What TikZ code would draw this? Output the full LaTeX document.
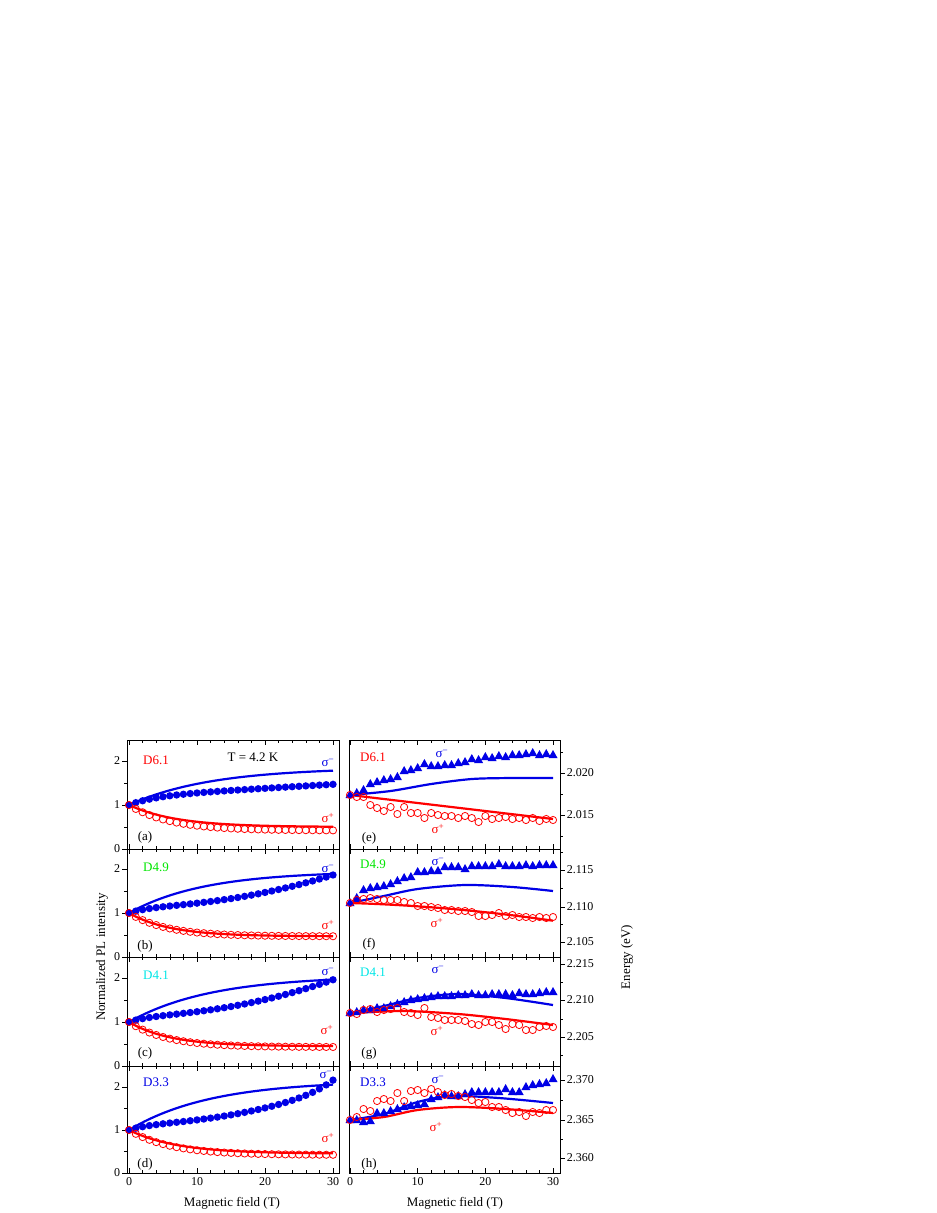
\documentclass[tikz,border=0pt]{standalone}
\usepackage{fontspec}
\setmainfont{Liberation Serif}
\definecolor{pred}{RGB}{255,0,0}
\definecolor{pblue}{RGB}{0,0,230}
\definecolor{pgreen}{RGB}{0,230,0}
\definecolor{pcyan}{RGB}{0,230,230}
\newcommand{\sigminus}{σ\textsuperscript{−}}
\newcommand{\sigplus}{σ\textsuperscript{+}}

\begin{document}
\begin{tikzpicture}[x=1pt,y=-1pt]
	\tikzset{
		frame/.style={line width=.6pt},
		fitline/.style={line width=2.2pt},
		lab/.style={font=\fontsize{13}{15}\selectfont, inner sep=0pt},
		ticklab/.style={font=\fontsize{12}{14}\selectfont, inner sep=1.5pt},
		opencirc/.style={draw=pred, line width=.8pt}
	}
	\useasboundingbox (0,0) rectangle (937,1213);
	
	% frames and field ticks
	\foreach \t/\b in {740/849,849/957,957/1066,1066/1173} {
		\draw[frame] (127,\t) rectangle (339,\b);
		\draw[frame] (349,\t) rectangle (560,\b);
		\foreach \B in {0,2,...,30} {
			\pgfmathsetmacro{\len}{mod(\B,10)==0 ? 5 : 3}
			\draw[frame] ({129+6.8*\B},\t) -- ++(0,\len) ({129+6.8*\B},\b) -- ++(0,-\len);
			\draw[frame] ({350+6.767*\B},\t) -- ++(0,\len) ({350+6.767*\B},\b) -- ++(0,-\len);
		}
	}
	\foreach \B in {0,10,20,30} {
		\node[ticklab, below] (xl\B) at ({129+6.8*\B},1176) {\B};
		\node[ticklab, below] (xr\B) at ({350+6.767*\B},1176) {\B};
	}
	
	% intensity ticks
	\foreach \z/\u in {849/44,957/44,1066/44,1173/43} {
		\foreach \v in {0,1,2}
			\draw[frame] (127,{\z-\v*\u}) -- ++(-5,0) node[ticklab, left] {\v};
		\foreach \v in {0.5,1.5}
			\draw[frame] (127,{\z-\v*\u}) -- ++(-3,0);
	}
	
	% energy ticks
	\foreach \p/\s in {773/2.020,815/2.015,870/2.115,907/2.110,942/2.105,964/2.215,1000/2.210,1037/2.205,1080/2.370,1120/2.365,1158/2.360}
		\draw[frame] (560,\p) -- ++(5,0) node[ticklab, right] {\s};
	\foreach \p in {752,794,836,852,888,924,982,1019,1055,1100,1139}
		\draw[frame] (560,\p) -- ++(3,0);
	
	% left panels: intensity
	\begin{scope}[shift={(129,849)}, x=6.8pt, y=44pt]
		\draw[fitline, pblue] plot[domain=0:30, samples=40, smooth] (\x,{1+0.85*(1-exp(-\x/12))});
		\draw[fitline, pred] plot[domain=0:30, samples=40, smooth] (\x,{0.5+0.5*exp(-\x/7)});
		\foreach \B in {0,...,30} {
			\fill[pblue] (\B,{1+0.2*(1-exp(-\B/4))+0.009*\B}) circle (3.7pt);
			\draw[opencirc] (\B,{0.42+0.58*exp(-\B/6)}) circle (3.6pt);
		}
	\end{scope}
	\begin{scope}[shift={(129,957)}, x=6.8pt, y=44pt]
		\draw[fitline, pblue] plot[domain=0:30, samples=40, smooth] (\x,{1+0.95*(1-exp(-\x/11))});
		\draw[fitline, pred] plot[domain=0:30, samples=40, smooth] (\x,{0.47+0.53*exp(-\x/6)});
		\foreach \B in {0,...,30} {
			\fill[pblue] (\B,{1+0.15*(1-exp(-\B/3))+0.0008*\B*\B}) circle (3.7pt);
			\draw[opencirc] (\B,{0.47+0.53*exp(-\B/5.5)}) circle (3.6pt);
		}
	\end{scope}
	\begin{scope}[shift={(129,1066)}, x=6.8pt, y=44pt]
		\draw[fitline, pblue] plot[domain=0:30, samples=40, smooth] (\x,{1+1.05*(1-exp(-\x/12))});
		\draw[fitline, pred] plot[domain=0:30, samples=40, smooth] (\x,{0.45+0.55*exp(-\x/6)});
		\foreach \B in {0,...,30} {
			\fill[pblue] (\B,{1+0.15*(1-exp(-\B/3))+0.0009*\B*\B}) circle (3.7pt);
			\draw[opencirc] (\B,{0.43+0.57*exp(-\B/5.5)}) circle (3.6pt);
		}
	\end{scope}
	\begin{scope}[shift={(129,1173)}, x=6.8pt, y=43pt]
		\draw[fitline, pblue] plot[domain=0:30, samples=40, smooth] (\x,{1+1.15*(1-exp(-\x/12))});
		\draw[fitline, pred] plot[domain=0:30, samples=40, smooth] (\x,{0.45+0.55*exp(-\x/7)});
		\foreach \B in {0,...,30} {
			\fill[pblue] (\B,{1+0.15*(1-exp(-\B/3))+0.0009*\B*\B+0.2*(\B/30)^10}) circle (3.7pt);
			\draw[opencirc] (\B,{0.42+0.58*exp(-\B/6)}) circle (3.6pt);
		}
	\end{scope}
	
	% right panels: energy (in picture units)
	\begin{scope}[shift={(350,0)}, x=6.767pt]
		\draw[fitline, pblue] plot[smooth] coordinates {(0,795) (6,791) (12,784) (18,779) (24,778) (30,778)};
		\draw[fitline, pred] (0,795) -- (30,819);
		\foreach \y [count=\i from 0] in {795,793,790,784,782,780,779,777,771,770,768,764,766,766,765,765,763,762,759,760,757,758,756,757,755,755,754,753,755,754,755}
			\fill[pblue] (\i,\y) ++(0pt,5pt) -- ++(4.5pt,-8pt) -- ++(-9pt,0pt) -- cycle;
		\foreach \y [count=\i from 0] in {795,797,797,805,808,811,807,814,807,813,813,818,813,815,816,816,818,816,818,822,816,819,818,817,819,818,820,818,821,819,820}
			\draw[opencirc] (\i,\y) circle (3.6pt);
		
		\draw[fitline, pblue] plot[smooth] coordinates {(0,903) (5,896) (10,889) (17,885) (24,887) (30,891)};
		\draw[fitline, pred] plot[domain=0:30, samples=20, smooth] (\x,{903+0.2*\x+0.013*\x*\x});
		\foreach \y [count=\i from 0] in {903,898,890,888,887,886,884,881,878,877,872,872,871,871,867,867,867,869,866,866,866,866,864,866,866,866,865,866,865,865,865}
			\fill[pblue] (\i,\y) ++(0pt,5pt) -- ++(4.5pt,-8pt) -- ++(-9pt,0pt) -- cycle;
		\foreach \y [count=\i from 0] in {903,900,899,898,899,900,900,900,902,903,906,906,907,908,910,910,911,911,912,916,916,915,913,916,915,917,917,918,917,918,917}
			\draw[opencirc] (\i,\y) circle (3.6pt);
		
		\draw[fitline, pblue] plot[smooth] coordinates {(0,1013) (5,1006) (10,998) (16,994) (23,998) (30,1005)};
		\draw[fitline, pred] plot[smooth] coordinates {(0,1013) (8,1011) (16,1014) (23,1019) (30,1025)};
		\foreach \y [count=\i from 0] in {1013,1012,1010,1010,1008,1008,1006,1004,1002,1000,999,998,997,996,996,996,995,995,994,995,995,994,994,994,995,993,994,994,993,992,992}
			\fill[pblue] (\i,\y) ++(0pt,5pt) -- ++(4.5pt,-8pt) -- ++(-9pt,0pt) -- cycle;
		\foreach \y [count=\i from 0] in {1013,1014,1010,1009,1012,1010,1009,1008,1012,1013,1015,1008,1017,1018,1020,1020,1020,1021,1024,1025,1022,1022,1025,1029,1024,1025,1030,1030,1027,1026,1027}
			\draw[opencirc] (\i,\y) circle (3.6pt);
		
		\draw[fitline, pblue] plot[smooth] coordinates {(0,1120) (5,1114) (10,1102) (15,1096) (22,1098) (30,1103)};
		\draw[fitline, pred] plot[smooth] coordinates {(0,1120) (5,1117) (10,1110) (16,1107) (23,1109) (30,1113)};
		\foreach \y [count=\i from 0] in {1120,1120,1122,1121,1113,1113,1111,1109,1107,1106,1105,1104,1099,1097,1095,1096,1096,1094,1092,1092,1092,1092,1092,1089,1092,1092,1087,1085,1084,1083,1079}
			\fill[pblue] (\i,\y) ++(0pt,5pt) -- ++(4.5pt,-8pt) -- ++(-9pt,0pt) -- cycle;
		\foreach \y [count=\i from 0] in {1120,1117,1109,1111,1101,1099,1101,1093,1101,1091,1090,1093,1089,1092,1095,1094,1096,1097,1100,1103,1102,1107,1107,1110,1113,1112,1116,1112,1113,1110,1110}
			\draw[opencirc] (\i,\y) circle (3.6pt);
	\end{scope}
	
	% labels
	\node[lab, text=pred] (da) at (156,760) {D6.1};
	\node[lab] (temp) at (253,757) {T = 4.2 K};
	\node[lab, text=pgreen] (db) at (156,867) {D4.9};
	\node[lab, text=pcyan] (dc) at (156,975) {D4.1};
	\node[lab, text=pblue] (dd) at (156,1082) {D3.3};
	\node[lab, text=pred] (de) at (373,757) {D6.1};
	\node[lab, text=pgreen] (df) at (373,864) {D4.9};
	\node[lab, text=pcyan] (dg) at (373,972) {D4.1};
	\node[lab, text=pblue] (dh) at (373,1082) {D3.3};
	\foreach \n/\x/\y in {a/145/837,b/145/946,c/145/1053,d/145/1164,e/369/838,f/369/944,g/369/1053,h/369/1164}
		\node[lab] (p\n) at (\x,\y) {(\n)};
	\foreach \n/\x/\y in {a/328/763,b/328/869,c/328/972,d/326/1075,e/442/754,f/438/862,g/438/970,h/438/1080}
		\node[lab, text=pblue] (sm\n) at (\x,\y) {\sigminus};
	\foreach \n/\x/\y in {a/328/818,b/328/925,c/327/1030,d/328/1138,e/438/829,f/437/923,g/437/1031,h/436/1127}
		\node[lab, text=pred] (sp\n) at (\x,\y) {\sigplus};
	\node[lab, rotate=90] (ylab) at (102,957) {Normalized PL intensity};
	\node[lab, rotate=90] (elab) at (627,957) {Energy (eV)};
	\node[lab] (bxl) at (232,1203) {Magnetic field (T)};
	\node[lab] (bxr) at (455,1203) {Magnetic field (T)};
\end{tikzpicture}
\end{document}
